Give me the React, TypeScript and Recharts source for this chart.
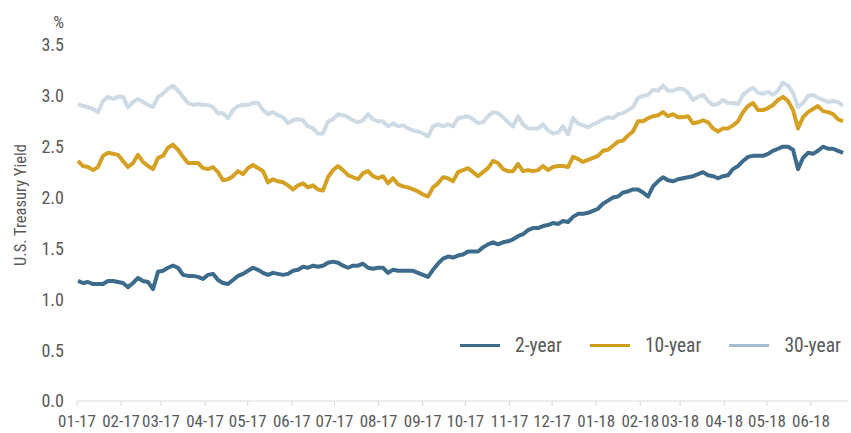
import React from 'react';
import { LineChart, Line, XAxis, YAxis } from 'recharts';

const FONT = "'Liberation Sans Narrow', 'Roboto Condensed', 'DejaVu Sans Condensed', sans-serif";
const TEXT = '#595959';
const AXIS = '#d9d9d9';

// month starts as days since 1 Jan 2017
const monthStarts = [0, 31, 59, 90, 120, 151, 181, 212, 243, 273, 304, 334, 365, 396, 424, 455, 485, 516];
const monthLabels = [
  '01-17', '02-17', '03-17', '04-17', '05-17', '06-17', '07-17', '08-17', '09-17',
  '10-17', '11-17', '12-17', '01-18', '02-18', '03-18', '04-18', '05-18', '06-18',
];
const yTicks = [0, 0.5, 1, 1.5, 2, 2.5, 3, 3.5];

// yields (%), one reading roughly every 3.5 calendar days
const twoYear = [
  1.18, 1.16, 1.17, 1.15, 1.15, 1.15, 1.18, 1.18, 1.17, 1.16,
  1.12, 1.16, 1.21, 1.18, 1.17, 1.10, 1.27, 1.28, 1.31, 1.33,
  1.31, 1.24, 1.23, 1.23, 1.22, 1.20, 1.24,
  1.25, 1.19, 1.16, 1.15, 1.19, 1.23, 1.25, 1.28, 1.31, 1.29,
  1.26, 1.24, 1.26, 1.25, 1.24, 1.25, 1.28, 1.29, 1.32, 1.31,
  1.33, 1.32, 1.33, 1.36, 1.37, 1.36,
  1.33, 1.31, 1.33, 1.33, 1.35, 1.31, 1.30, 1.31, 1.31, 1.26,
  1.29, 1.28, 1.28, 1.28, 1.28, 1.26, 1.24, 1.22, 1.29, 1.35,
  1.40, 1.42, 1.41, 1.43, 1.44, 1.47,
  1.47, 1.47, 1.51, 1.54, 1.56, 1.54, 1.56, 1.57, 1.59, 1.62,
  1.64, 1.68, 1.70, 1.70, 1.72, 1.73, 1.75, 1.74, 1.77, 1.76,
  1.81, 1.84, 1.84, 1.85, 1.87, 1.89,
  1.94, 1.97, 2.00, 2.01, 2.05, 2.06, 2.08, 2.08, 2.05, 2.01,
  2.11, 2.16, 2.20, 2.17, 2.16, 2.18, 2.19, 2.20, 2.21, 2.23,
  2.25, 2.22, 2.21, 2.19, 2.21,
  2.22, 2.28, 2.31, 2.36, 2.40, 2.41, 2.41, 2.41, 2.43, 2.46,
  2.48, 2.50, 2.50, 2.47, 2.28, 2.39, 2.44, 2.43, 2.46, 2.50,
  2.48, 2.48, 2.46, 2.44,
];

const tenYear = [
  2.36, 2.31, 2.30, 2.27, 2.30, 2.41, 2.44, 2.43, 2.42, 2.36,
  2.30, 2.34, 2.42, 2.35, 2.31, 2.28, 2.39, 2.41, 2.49, 2.52,
  2.47, 2.40, 2.34, 2.34, 2.34, 2.29, 2.28,
  2.30, 2.25, 2.17, 2.18, 2.21, 2.26, 2.23, 2.29, 2.32, 2.29,
  2.26, 2.15, 2.18, 2.16, 2.15, 2.12, 2.08, 2.12, 2.14, 2.10,
  2.12, 2.08, 2.07, 2.20, 2.27, 2.31,
  2.27, 2.22, 2.20, 2.18, 2.24, 2.26, 2.21, 2.19, 2.21, 2.14,
  2.19, 2.13, 2.11, 2.10, 2.08, 2.06, 2.03, 2.01, 2.10, 2.14,
  2.20, 2.19, 2.16, 2.25, 2.27, 2.29,
  2.25, 2.21, 2.25, 2.29, 2.36, 2.34, 2.28, 2.26, 2.26, 2.33,
  2.26, 2.27, 2.26, 2.27, 2.31, 2.27, 2.30, 2.31, 2.31, 2.30,
  2.40, 2.38, 2.35, 2.37, 2.39, 2.41,
  2.46, 2.47, 2.51, 2.55, 2.56, 2.61, 2.65, 2.75, 2.75, 2.78,
  2.80, 2.81, 2.84, 2.80, 2.82, 2.79, 2.79, 2.80, 2.73, 2.74,
  2.76, 2.74, 2.68, 2.65, 2.68,
  2.68, 2.71, 2.75, 2.84, 2.90, 2.93, 2.86, 2.86, 2.88, 2.91,
  2.96, 2.99, 2.95, 2.86, 2.68, 2.79, 2.84, 2.87, 2.90, 2.85,
  2.84, 2.82, 2.77, 2.75,
];

const thirtyYear = [
  2.92, 2.90, 2.89, 2.87, 2.84, 2.95, 2.99, 2.97, 2.99, 2.99,
  2.89, 2.94, 2.97, 2.94, 2.91, 2.89, 2.99, 3.02, 3.07, 3.10,
  3.05, 2.99, 2.93, 2.91, 2.92, 2.91, 2.91,
  2.89, 2.83, 2.83, 2.78, 2.86, 2.90, 2.91, 2.91, 2.93, 2.93,
  2.86, 2.82, 2.84, 2.81, 2.79, 2.73, 2.76, 2.77, 2.76, 2.70,
  2.68, 2.63, 2.63, 2.75, 2.77, 2.82,
  2.81, 2.79, 2.76, 2.74, 2.76, 2.82, 2.77, 2.75, 2.75, 2.70,
  2.73, 2.70, 2.71, 2.68, 2.66, 2.65, 2.63, 2.60, 2.70, 2.72,
  2.70, 2.72, 2.70, 2.78, 2.79, 2.80,
  2.77, 2.73, 2.74, 2.80, 2.84, 2.83, 2.79, 2.74, 2.70, 2.80,
  2.72, 2.68, 2.68, 2.68, 2.72, 2.66, 2.63, 2.64, 2.70, 2.62,
  2.78, 2.73, 2.71, 2.69, 2.72, 2.74,
  2.77, 2.79, 2.78, 2.82, 2.83, 2.86, 2.89, 2.98, 3.00, 3.01,
  3.06, 3.05, 3.10, 3.05, 3.05, 3.07, 3.07, 3.03, 2.96, 2.99,
  3.01, 2.95, 2.91, 2.92, 2.96,
  2.93, 2.93, 2.92, 3.01, 3.05, 3.08, 3.03, 3.02, 3.04, 3.01,
  3.05, 3.13, 3.10, 3.03, 2.89, 2.93, 3.00, 3.01, 2.98, 2.96,
  2.94, 2.95, 2.94, 2.90,
];

const FIRST_DAY = 0.7;
const STEP_DAYS = 3.515;
const LAST_DAY = 542;

const data = twoYear.map((v, i) => ({
  day: FIRST_DAY + i * STEP_DAYS,
  y2: v,
  y10: tenYear[i],
  y30: thirtyYear[i],
}));

const series = [
  { key: 'y2', name: '2-year', stroke: '#3d6b8b', swatch: '#3c6a89' },
  { key: 'y10', name: '10-year', stroke: '#d5a124', swatch: '#cf9c1a' },
  { key: 'y30', name: '30-year', stroke: '#cfdbe4', swatch: '#a4bdd3' },
];

const LegendBox = () => (
  <div
    style={{
      position: 'absolute', left: 460, top: 333, height: 24,
      display: 'flex', alignItems: 'center', whiteSpace: 'nowrap',
      fontFamily: FONT, fontSize: 19.5, color: TEXT,
    }}
  >
    {series.map((s) => (
      <div key={s.key} style={{ display: 'flex', alignItems: 'center', flexShrink: 0, marginRight: 28 }}>
        <span style={{ display: 'inline-block', width: 40, height: 3, background: s.swatch, marginRight: 15 }} />
        <span>{s.name}</span>
      </div>
    ))}
  </div>
);

const renderAxisTitle = (props: any) => {
  const { x, y, height } = props.viewBox;
  const cx = x + 20;
  const cy = y + height / 2 - 18;
  return (
    <g fontFamily={FONT} fill={TEXT}>
      <text x={cx} y={cy} fontSize={16.5} textAnchor="middle" dominantBaseline="central" transform={`rotate(-90 ${cx} ${cy})`}>
        U.S. Treasury Yield
      </text>
      <text x={x + 64} y={y - 23} dy="0.35em" fontSize={17} textAnchor="end">
        %
      </text>
    </g>
  );
};

export default function App() {
  return (
    <div style={{ position: 'absolute', left: 0, top: 0, width: 851, height: 433, background: '#fff' }}>
      <LineChart width={851} height={433} data={data} margin={{ top: 45, right: 3, bottom: 0, left: 0 }}>
        <XAxis
          dataKey="day"
          type="number"
          domain={[0, LAST_DAY]}
          ticks={monthStarts}
          interval={0}
          tickFormatter={(d: number) => monthLabels[monthStarts.indexOf(d)]}
          height={32}
          axisLine={{ stroke: AXIS }}
          tickLine={{ stroke: AXIS }}
          tickSize={5}
          tickMargin={9}
          tick={{ fill: TEXT, fontSize: 17, fontFamily: FONT }}
        />
        <YAxis
          domain={[0, 3.5]}
          ticks={yTicks}
          interval={0}
          tickFormatter={(v: number) => v.toFixed(1)}
          width={77}
          axisLine={false}
          tickLine={false}
          tickSize={0}
          tickMargin={13}
          tick={{ fill: TEXT, fontSize: 18, fontFamily: FONT }}
          label={renderAxisTitle}
        />
        {[...series].reverse().map((s) => (
          <Line
            key={s.key}
            type="linear"
            dataKey={s.key}
            name={s.name}
            stroke={s.stroke}
            strokeWidth={4}
            strokeLinejoin="round"
            dot={false}
            activeDot={false}
            isAnimationActive={false}
          />
        ))}
      </LineChart>
      <LegendBox />
    </div>
  );
}
